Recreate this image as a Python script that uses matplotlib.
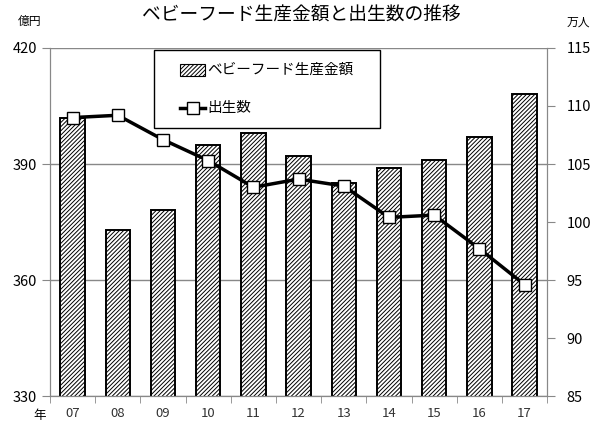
import numpy as np
import matplotlib.pyplot as plt
from matplotlib.patches import Rectangle
from matplotlib.lines import Line2D

plt.rcParams['font.family'] = ['Noto Sans CJK JP', 'DejaVu Sans']
plt.rcParams['hatch.linewidth'] = 0.7

years = ['07', '08', '09', '10', '11', '12', '13', '14', '15', '16', '17']
# ベビーフード生産金額 (億円)
amount = [402, 373, 378, 395, 398, 392, 385, 389, 391, 397, 408]
# 出生数 (万人)
births = [109.0, 109.2, 107.1, 105.3, 103.0, 103.7, 103.1, 100.4, 100.6, 97.7, 94.6]

W, H = 602, 432
fig = plt.figure(figsize=(W / 100, H / 100), dpi=100)
ax = fig.add_axes([0.083, 0.083, 0.826, 0.806])
x = np.arange(len(years))

def px(a, b):
    # pixel coords (from top-left) -> figure fraction
    return a / W, 1 - b / H

ax.bar(x, amount, width=0.54, color='white', edgecolor='black', hatch='////////', linewidth=1.4, zorder=2)
ax.set_ylim(330, 420)
ax.set_yticks([330, 360, 390, 420])
ax.set_xlim(-0.5, len(years) - 0.5)
ax.set_xticks(x)
ax.set_xticklabels(years, fontsize=9.5, color='#333333')
ax.tick_params(axis='x', length=0, pad=8)
ax.set_xticks(np.arange(-0.5, len(years)), minor=True)
ax.tick_params(axis='x', which='minor', length=5, color='#888888')
ax.tick_params(axis='y', length=6, color='#888888', labelsize=10.5)
ax.grid(axis='y', color='#888888', linewidth=1.0, zorder=0)
for s in ['left', 'right', 'bottom']:
    ax.spines[s].set_color('#888888')
ax.spines['top'].set_visible(False)

ax2 = ax.twinx()
ax2.plot(x, births, color='black', linewidth=2.5, marker='s', markersize=8,
         markerfacecolor='white', markeredgecolor='black', markeredgewidth=1.0, zorder=3)
ax2.set_ylim(85, 115)
ax2.set_yticks([85, 90, 95, 100, 105, 110, 115])
ax2.tick_params(axis='y', length=6, color='#888888', labelsize=10.5, pad=8)
for s in ['left', 'right', 'bottom']:
    ax2.spines[s].set_color('#888888')
ax2.spines['top'].set_visible(False)

# legend box drawn by hand
x0, y0 = px(154, 128)
x1, y1 = px(380, 50)
fig.patches.append(Rectangle((x0, y0), x1 - x0, y1 - y0, transform=fig.transFigure,
                             facecolor='white', edgecolor='black', linewidth=1.0, zorder=10))
hx, hy = px(180, 76)
hx2, hy2 = px(205, 64)
fig.patches.append(Rectangle((hx, hy), hx2 - hx, hy2 - hy, transform=fig.transFigure,
                             facecolor='white', edgecolor='black', hatch='////////',
                             linewidth=0.8, zorder=11))
lx0, ly = px(180, 108)
lx1, _ = px(205, 108)
fig.lines.append(Line2D([lx0, lx1], [ly, ly], transform=fig.transFigure, color='black',
                        linewidth=2.5, zorder=11))
fig.lines.append(Line2D([(lx0 + lx1) / 2], [ly], transform=fig.transFigure, marker='s',
                        markersize=8, markerfacecolor='white', markeredgecolor='black',
                        markeredgewidth=1.0, zorder=12))
fig.text(*px(207, 70), 'ベビーフード生産金額', ha='left', va='center', fontsize=10.5, zorder=12)
fig.text(*px(207, 108), '出生数', ha='left', va='center', fontsize=10.5, zorder=12)

fig.text(*px(301, 15), 'ベビーフード生産金額と出生数の推移', ha='center', va='center', fontsize=13.5)
fig.text(*px(30, 21), '億円', ha='center', va='center', fontsize=8.5)
fig.text(*px(578, 22), '万人', ha='center', va='center', fontsize=8.5)
fig.text(*px(40, 416), '年', ha='center', va='center', fontsize=9)

fig.savefig('out.png', dpi=100)
